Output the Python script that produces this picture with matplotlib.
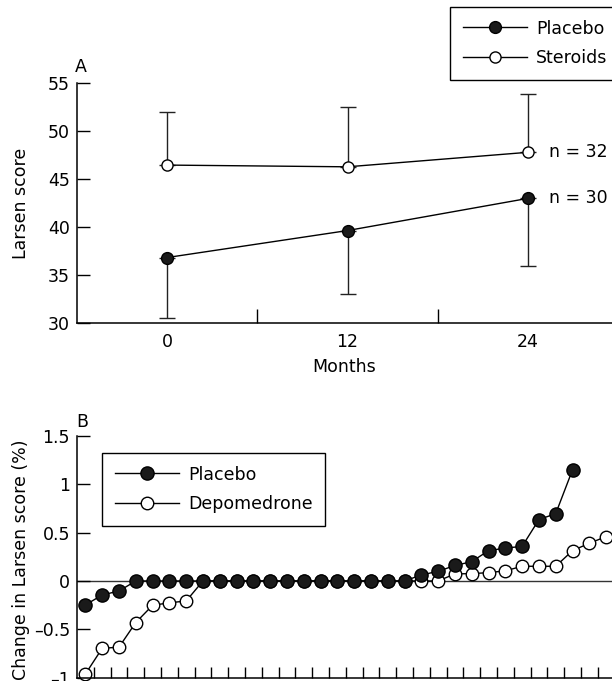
"""Larsen score over time (A) and ranked change in score (B)."""

import matplotlib.pyplot as plt
from matplotlib.lines import Line2D
import numpy as np

# Panel A: mean Larsen score with one-sided error bars
months = [0, 12, 24]
steroids_mean = [46.45, 46.27, 47.78]
steroids_upper = [52.0, 52.45, 53.85]
placebo_mean = [36.82, 39.63, 42.98]
placebo_lower = [30.52, 33.05, 35.95]
n_steroids = "n = 32"
n_placebo = "n = 30"

# Panel B: per-patient change in Larsen score (%), ranked
placebo_change = [
    -0.248, -0.145, -0.104,
    0.0, 0.0, 0.0, 0.0, 0.0, 0.0, 0.0, 0.0, 0.0,
    0.0, 0.0, 0.0, 0.0, 0.0, 0.0, 0.0, 0.0,
    0.062, 0.10, 0.16, 0.20, 0.314, 0.34, 0.358, 0.635, 0.697, 1.15,
]
depo_change = [
    -0.963, -0.697, -0.685, -0.43, -0.252, -0.226, -0.207,
    0.0, 0.0, 0.0, 0.0, 0.0, 0.0, 0.0, 0.0,
    0.0, 0.0, 0.0, 0.0, 0.0, 0.0, 0.0,
    0.073, 0.076, 0.086, 0.105, 0.152, 0.152, 0.152, 0.314, 0.39, 0.459,
]
b_yticks = [-1, -0.5, 0, 0.5, 1, 1.5]
b_yticklabels = ["\u20131", "\u20130.5", "0", "0.5", "1", "1.5"]

plt.rcParams["font.family"] = "DejaVu Sans"
plt.rcParams["font.size"] = 12.5

W, H = 612, 681
fig = plt.figure(figsize=(W / 100, H / 100), dpi=100)


def fig_box(left, top, right, bottom):
    """Axes rectangle from pixel edges (origin top left)."""
    return [left / W, 1 - bottom / H, (right - left) / W, (bottom - top) / H]


filled = dict(color="black", marker="o", mfc="#1a1a1a", mec="black", mew=1, lw=1)
hollow = dict(color="black", marker="o", mfc="white", mec="black", mew=1, lw=1)
leg_kw = dict(
    frameon=True, fancybox=False, edgecolor="black", framealpha=1,
    handlelength=3.7, handletextpad=0.55, labelspacing=0.68,
    borderpad=0.72, borderaxespad=0, fontsize=12.5,
)

# ---- panel A ----
ax_a = fig.add_axes(fig_box(77, 83, 612, 323))

ax_a.errorbar(months, steroids_mean,
              yerr=[np.zeros(3), np.subtract(steroids_upper, steroids_mean)],
              fmt="none", ecolor="#222222", elinewidth=1, capsize=6, capthick=1)
ax_a.errorbar(months, placebo_mean,
              yerr=[np.subtract(placebo_mean, placebo_lower), np.zeros(3)],
              fmt="none", ecolor="#222222", elinewidth=1, capsize=6, capthick=1)
ax_a.plot(months, steroids_mean, ms=8, zorder=3, **hollow)
ax_a.plot(months, placebo_mean, ms=8.5, zorder=3, **filled)

ax_a.text(25.4, steroids_mean[-1], n_steroids, ha="left", va="center")
ax_a.text(25.4, placebo_mean[-1], n_placebo, ha="left", va="center")

ax_a.set_xlim(-6, 29.6)
ax_a.set_ylim(30, 55)
ax_a.set_xticks(months)
ax_a.set_xticks([6, 18], minor=True)
ax_a.tick_params(axis="x", which="major", length=0, pad=7)
ax_a.tick_params(axis="x", which="minor", direction="in", length=10, width=1)
ax_a.set_yticks([30, 35, 40, 45, 50, 55])
ax_a.tick_params(axis="y", direction="in", length=9.5, width=1, pad=5)
for side in ["top", "right"]:
    ax_a.spines[side].set_visible(False)
for side in ["left", "bottom"]:
    ax_a.spines[side].set_linewidth(1.1)

ax_a.set_xlabel("Months", labelpad=5)
ax_a.set_ylabel("Larsen score")
ax_a.yaxis.set_label_coords(-0.088, 0.5)
fig.text(75 / W, 1 - 72 / H, "A", va="baseline")

handles_a = [Line2D([], [], ms=8.5, **filled), Line2D([], [], ms=8, **hollow)]
leg_a = fig.legend(handles_a, ["Placebo", "Steroids"], loc="upper left",
                   bbox_to_anchor=(450 / W, 1 - 75 / H, 0.35, 68 / H),
                   mode="expand", **leg_kw)
leg_a.get_frame().set_linewidth(1)

# ---- panel B ----
ax_b = fig.add_axes(fig_box(77, 436, 612, 677.6))

placebo_x = np.arange(1, len(placebo_change) + 1) - 0.5
depo_x = np.arange(1, len(depo_change) + 1) - 0.5

ax_b.axhline(0, color="#333333", lw=1, zorder=1)
ax_b.plot(depo_x, depo_change, ms=9, zorder=2, clip_on=False, **hollow)
ax_b.plot(placebo_x, placebo_change, ms=9.5, zorder=3, clip_on=False, **filled)

ax_b.set_xlim(0, 31.85)
ax_b.set_ylim(-1, 1.5)
ax_b.set_xticks(np.arange(1, 32))
ax_b.tick_params(axis="x", direction="in", length=8, width=1, labelbottom=False)
ax_b.set_yticks(b_yticks)
ax_b.set_yticklabels(b_yticklabels)
ax_b.tick_params(axis="y", direction="in", length=9.5, width=1, pad=5)
for side in ["top", "right"]:
    ax_b.spines[side].set_visible(False)
for side in ["left", "bottom"]:
    ax_b.spines[side].set_linewidth(1.1)

ax_b.set_ylabel("Change in Larsen score (%)")
ax_b.yaxis.set_label_coords(-0.087, 0.487)
fig.text(76 / W, 1 - 427 / H, "B", va="baseline")

handles_b = [Line2D([], [], ms=9.5, **filled), Line2D([], [], ms=9, **hollow)]
leg_b = fig.legend(handles_b, ["Placebo", "Depomedrone"], loc="upper left",
                   bbox_to_anchor=(102 / W, 1 - 453 / H), **leg_kw)
leg_b.get_frame().set_linewidth(1)

fig.savefig("out.png", dpi=100)
